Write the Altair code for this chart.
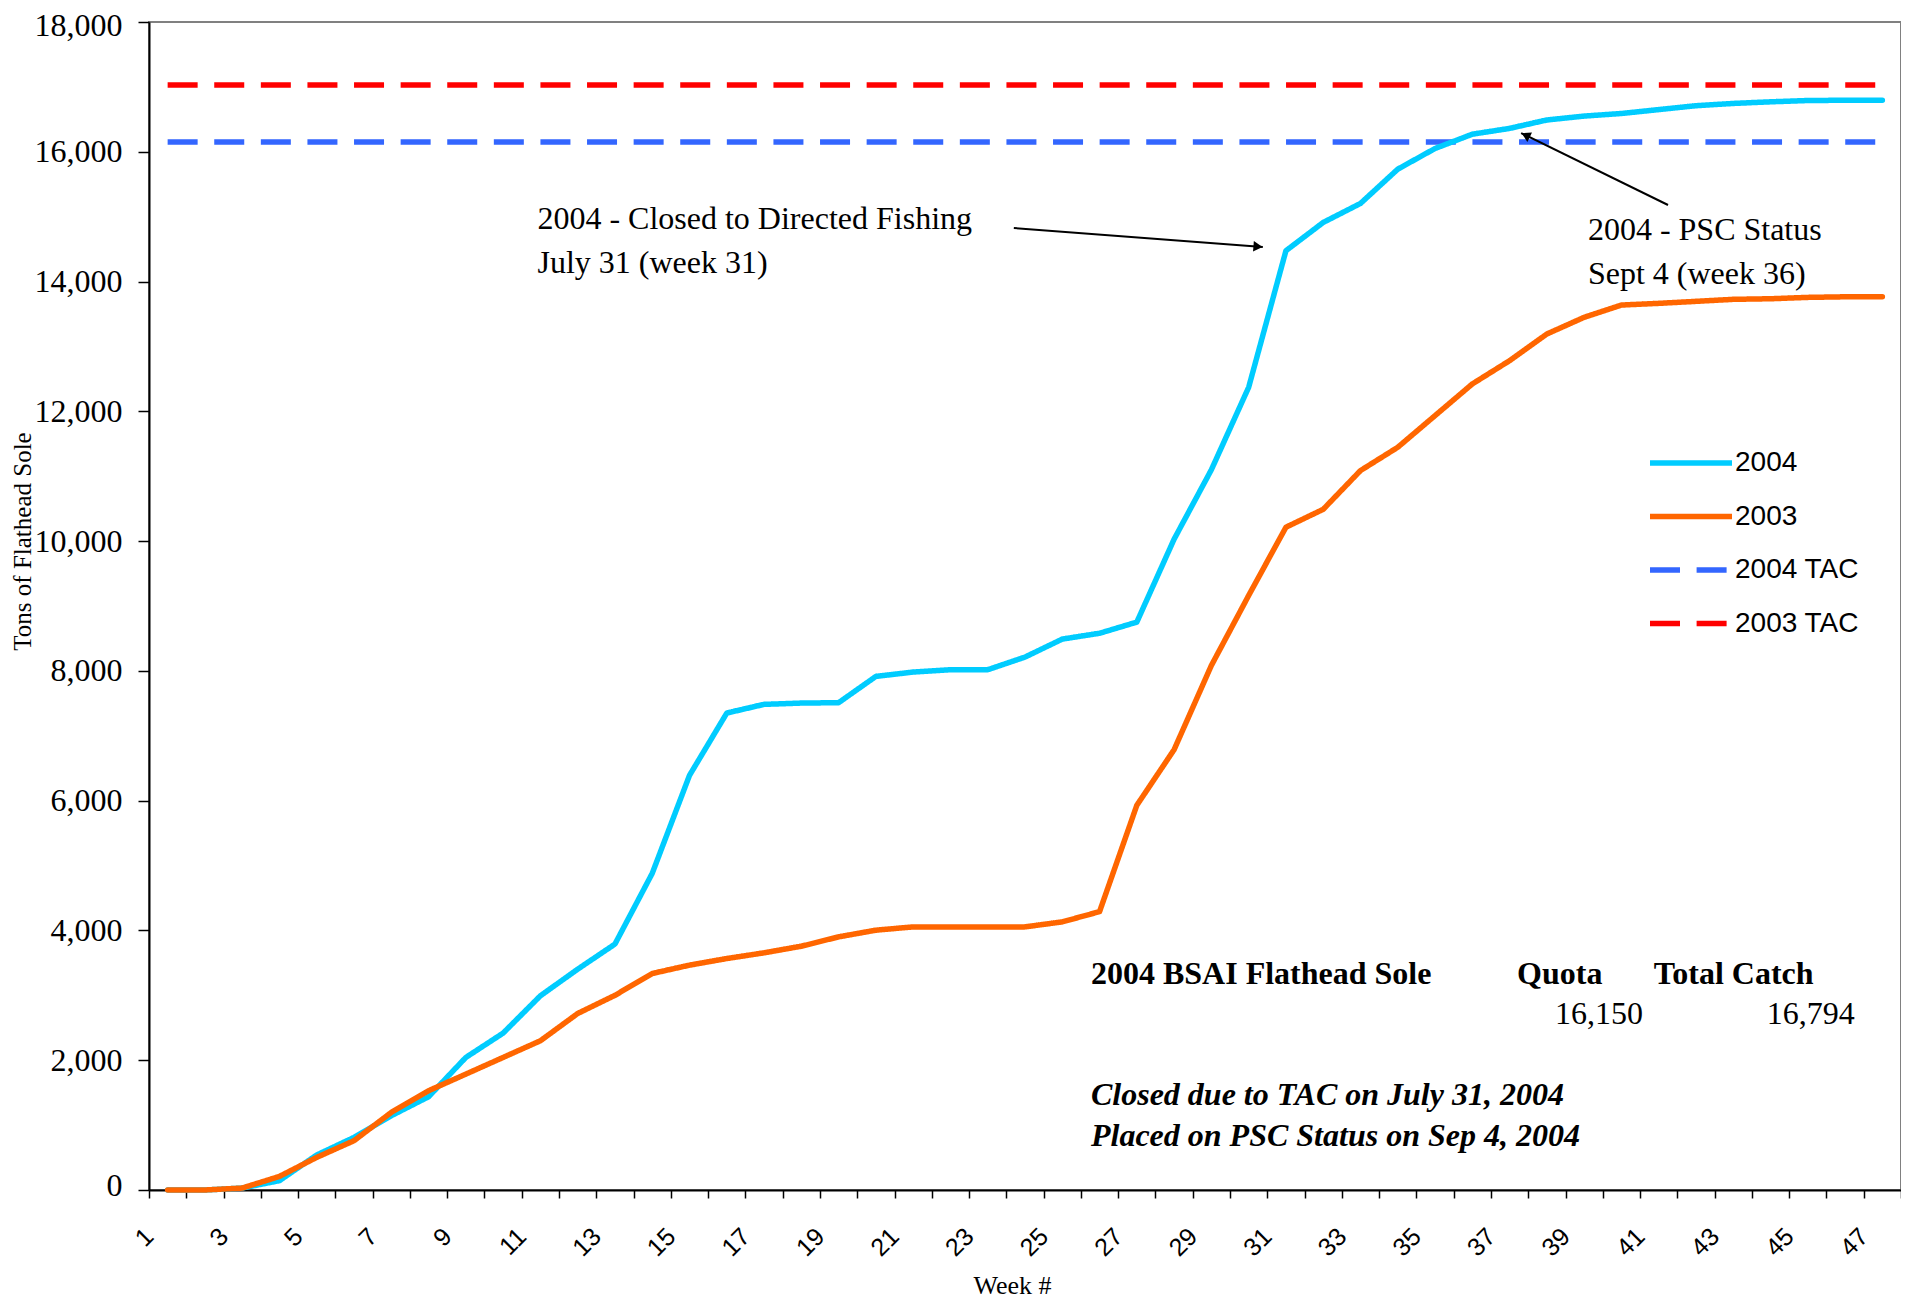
import altair as alt
import pandas as pd

# ---------------- data ----------------
weeks = list(range(1, 48))
catch_2004 = [0, 0, 30, 144, 540, 811, 1145, 1437, 2043, 2418,
              2993, 3403, 3790, 4880, 6390, 7350, 7484, 7504, 7510, 7915,
              7982, 8018, 8018, 8213, 8490, 8580, 8752, 10030, 11100, 12370,
              14475, 14911, 15204, 15732, 16051, 16271, 16360, 16490, 16550, 16590,
              16650, 16710, 16745, 16770, 16790, 16794, 16794]
catch_2003 = [0, 0, 30, 210, 503, 760, 1196, 1530, 1786, 2043,
              2300, 2720, 3000, 3336, 3465, 3567, 3655, 3757, 3901, 4004,
              4055, 4055, 4055, 4055, 4132, 4290, 5929, 6786, 8084, 9162,
              10214, 10490, 11087, 11446, 11934, 12422, 12781, 13192, 13449, 13638,
              13664, 13695, 13726, 13735, 13756, 13765, 13765]
tac_2004 = 16150
tac_2003 = 17030
series_names = ["2004", "2003", "2004 TAC", "2003 TAC"]
series_colors = ["#00CCFF", "#FF6600", "#3366FF", "#FF0000"]
x_tick_values = [w - 0.5 for w in range(1, 49)]
y_tick_values = list(range(0, 18001, 2000))

note_texts = ["2004 - Closed to Directed Fishing", "July 31 (week 31)",
              "2004 - PSC Status", "Sept 4 (week 36)", "16,150", "16,794"]
bold_texts = ["2004 BSAI Flathead Sole", "Quota", "Total Catch"]
italic_texts = ["Closed due to TAC on July 31, 2004", "Placed on PSC Status on Sep 4, 2004"]

# annotation anchor positions (data units: week, tons)
note_pos = [(10.92, 14964), (10.92, 14286), (39.10, 14794), (39.10, 14116),
            (38.22, 2712), (43.90, 2712)]
bold_pos = [(25.77, 3329), (37.20, 3329), (40.87, 3329)]
italic_pos = [(25.77, 1464), (25.77, 832)]
arrow_tail = [(23.70, 14825), (41.25, 15180)]
arrow_tip = [(30.38, 14532), (37.31, 16289)]
arrow_head = [(30.25, 14539, 4.4), (37.43, 16255, 206.1)]

# ---------------- tables ----------------
rows = []
for w, a, b in zip(weeks, catch_2004, catch_2003):
    rows.append({"week": w, "tons": a, "series": "2004"})
    rows.append({"week": w, "tons": b, "series": "2003"})
    rows.append({"week": w, "tons": tac_2004, "series": "2004 TAC"})
    rows.append({"week": w, "tons": tac_2003, "series": "2003 TAC"})
df = pd.DataFrame(rows)

notes_df = pd.DataFrame({"text": note_texts, "week": [p[0] for p in note_pos], "tons": [p[1] for p in note_pos]})
bold_df = pd.DataFrame({"text": bold_texts, "week": [p[0] for p in bold_pos], "tons": [p[1] for p in bold_pos]})
ital_df = pd.DataFrame({"text": italic_texts, "week": [p[0] for p in italic_pos], "tons": [p[1] for p in italic_pos]})
arrows_df = pd.DataFrame({"week": [p[0] for p in arrow_tail], "tons": [p[1] for p in arrow_tail],
                          "week2": [p[0] for p in arrow_tip], "tons2": [p[1] for p in arrow_tip]})
heads_df = pd.DataFrame({"week": [p[0] for p in arrow_head], "tons": [p[1] for p in arrow_head],
                         "ang": [p[2] for p in arrow_head]})

# ---------------- scales / axes ----------------
x_scale = alt.Scale(domain=[0.5, 47.5], nice=False, zero=False)
y_scale = alt.Scale(domain=[0, 18000], nice=False, zero=True)

x_axis = alt.Axis(values=x_tick_values,
                  labelExpr="(datum.value + 0.5) % 2 == 1 ? format(datum.value + 0.5, 'd') : ''",
                  labelAngle=315, labelAlign="right", labelBaseline="middle",
                  labelPadding=34, tickSize=8, tickColor="black", tickWidth=1.5,
                  labelFont="Liberation Sans", labelFontSize=25, labelColor="black",
                  labelFlush=False, labelOverlap=False, labelBound=False,
                  domainColor="black", domainWidth=2, grid=False,
                  title="Week #", titleFont="Liberation Serif", titleFontSize=26,
                  titleFontWeight="normal", titleColor="black",
                  titleX=863, titleY=95, titleAlign="center", titleBaseline="middle")
y_axis = alt.Axis(values=y_tick_values, format=",.0f",
                  labelFont="Liberation Serif", labelFontSize=32, labelColor="black",
                  labelPadding=16, tickSize=11, tickColor="black", tickWidth=1.5,
                  labelFlush=True, labelFlushOffset=12, labelOverlap=False,
                  domainColor="black", domainWidth=2, grid=False,
                  title="Tons of Flathead Sole", titleFont="Liberation Serif", titleFontSize=25,
                  titleFontWeight="normal", titleColor="black", titleAngle=270,
                  titleX=-127, titleY=519, titleAlign="center", titleBaseline="middle")

X = alt.X("week:Q", scale=x_scale, axis=x_axis)
Y = alt.Y("tons:Q", scale=y_scale, axis=y_axis)

legend = alt.Legend(title=None, orient="none", legendX=1498, legendY=431,
                    symbolType="stroke", symbolSize=6724, symbolStrokeWidth=5.5,
                    clipHeight=20, labelFont="Liberation Sans", labelFontSize=28,
                    labelColor="black", labelOffset=0, rowPadding=25.5, padding=0,
                    symbolOffset=0)
color = alt.Color("series:N", scale=alt.Scale(domain=series_names, range=series_colors), legend=legend)
dash = alt.StrokeDash("series:N", scale=alt.Scale(domain=series_names,
                      range=[[1, 0], [1, 0], [30, 16.6], [30, 16.6]]), legend=legend)

base = alt.Chart(df)


def line_layer(name, cap):
    return base.transform_filter(alt.datum.series == name).mark_line(
        strokeWidth=5.5, strokeCap=cap, strokeJoin="round"
    ).encode(x=X, y=Y, color=color, strokeDash=dash)


layers = [
    line_layer("2003 TAC", "butt"),
    line_layer("2004 TAC", "butt"),
    line_layer("2004", "round"),
    line_layer("2003", "round"),
    alt.Chart(arrows_df).mark_rule(color="black", strokeWidth=2).encode(
        x=X, y=Y, x2="week2:Q", y2="tons2:Q"),
    alt.Chart(heads_df).mark_point(shape="triangle-right", filled=True, size=110,
                                   color="black", opacity=1).encode(
        x=X, y=Y, angle=alt.Angle("ang:Q", scale=None)),
    alt.Chart(notes_df).mark_text(align="left", baseline="middle", font="Liberation Serif",
                                  fontSize=32, color="black").encode(x=X, y=Y, text="text:N"),
    alt.Chart(bold_df).mark_text(align="left", baseline="middle", font="Liberation Serif",
                                 fontSize=32, fontWeight="bold", color="black").encode(
        x=X, y=Y, text="text:N"),
    alt.Chart(ital_df).mark_text(align="left", baseline="middle", font="Liberation Serif",
                                 fontSize=32, fontWeight="bold", fontStyle="italic",
                                 color="black").encode(x=X, y=Y, text="text:N"),
]

chart = alt.layer(*layers).properties(
    width=1752, height=1168,
    autosize=alt.AutoSizeParams(type="none"),
    padding={"left": 141, "top": 14, "right": 0, "bottom": 110},
    background="white",
).configure_view(stroke="#808080", strokeWidth=2)

chart.save("out.html", embed_options={"renderer": "svg", "actions": False})
